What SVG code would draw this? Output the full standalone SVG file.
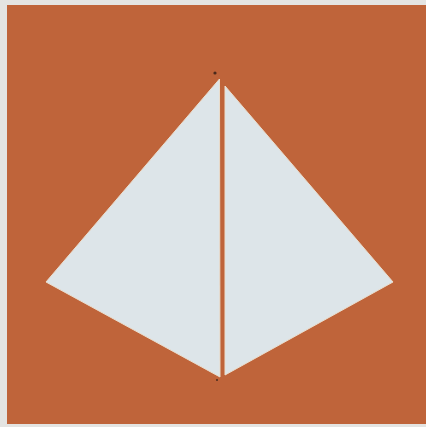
<svg xmlns="http://www.w3.org/2000/svg" width="426" height="427" viewBox="0 0 426 427">
  <style>
    .face { fill: #dde5e9; stroke: #eadfcf; stroke-width: 1; stroke-linejoin: miter; }
    .dot { fill: #4a2a1c; }
  </style>
  <rect x="0" y="0" width="426" height="427" fill="#e4e4e2"/>
  <rect x="7" y="5" width="419" height="419" fill="#bf643a"/>
  <g id="left-face">
    <polygon class="face" points="219.5,79 220,377 46,282"/>
  </g>
  <g id="right-face">
    <polygon class="face" points="225,86 393,282 225,375"/>
  </g>
  <g id="connectors">
    <circle class="dot" cx="215" cy="73" r="1.6"/>
    <circle class="dot" cx="217" cy="380" r="1"/>
  </g>
</svg>
